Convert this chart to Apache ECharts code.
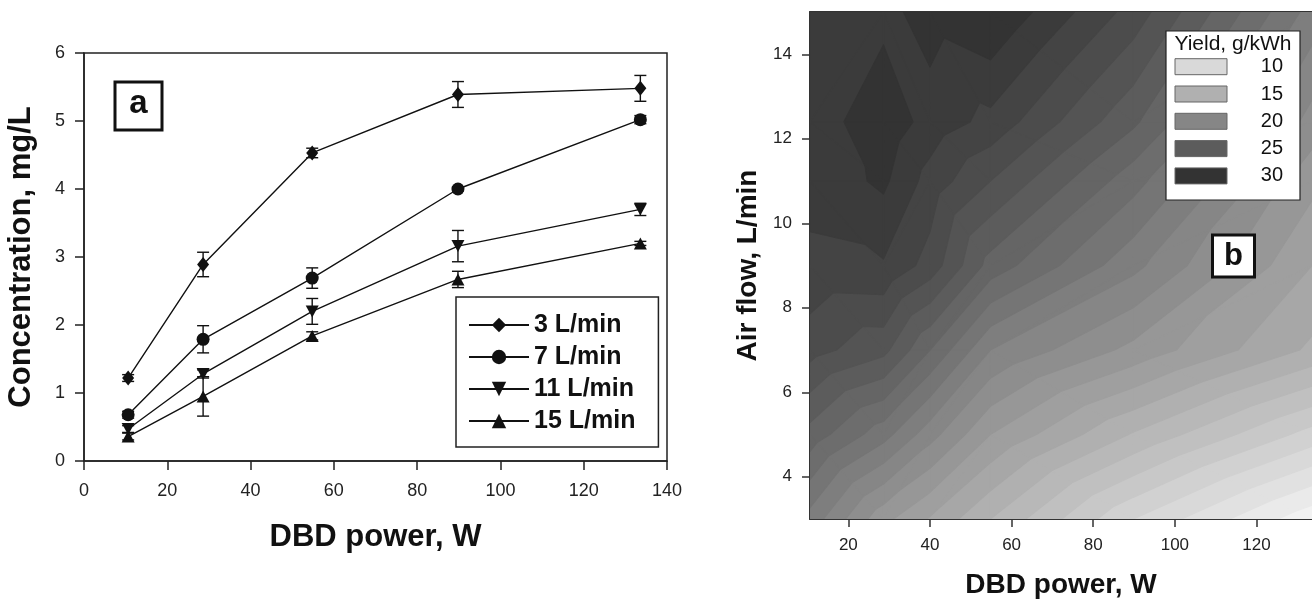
<!DOCTYPE html>
<html>
<head>
<meta charset="utf-8">
<title>Ozone concentration and yield vs DBD power</title>
<script src="https://cdn.jsdelivr.net/npm/echarts@6/dist/echarts.min.js"></script>
<style>
  html, body { margin: 0; padding: 0; background: #fff; }
  #chart { width: 1312px; height: 604px; }
</style>
</head>
<body>
<div id="chart"></div>
<script>
// ---- Panel a: concentration vs DBD power, one line per air flow ----
const powerA = [10.6, 28.6, 54.8, 89.8, 133.6];
const flowNames = ['3 L/min', '7 L/min', '11 L/min', '15 L/min'];
const conc3 = [1.22, 2.89, 4.53, 5.39, 5.48];
const conc7 = [0.68, 1.79, 2.69, 4.00, 5.02];
const conc11 = [0.47, 1.28, 2.20, 3.16, 3.70];
const conc15 = [0.36, 0.95, 1.84, 2.67, 3.20];
const err3 = [0.05, 0.18, 0.07, 0.19, 0.19];
const err7 = [0.05, 0.20, 0.15, 0.03, 0.06];
const err11 = [0.05, 0.06, 0.19, 0.23, 0.09];
const err15 = [0.05, 0.29, 0.06, 0.12, 0.03];

// ---- Panel b: yield (g/kWh) on a power x air-flow mesh ----
const powerB = [10.6, 28.6, 40, 54.8, 89.8, 133.6];
const flowB = [3, 5, 7, 9, 11, 12.4, 15];
const yieldQ3 = [21.6, 18.3, 16.9, 15.0, 11.0, 7.3];
const yieldQ5 = [24.6, 22.4, 20.4, 18.0, 14.9, 11.6];
const yieldQ7 = [27.4, 26.3, 24.0, 21.0, 18.7, 15.8];
const yieldQ9 = [28.8, 28.9, 27.6, 24.6, 21.3, 17.0];
const yieldQ11 = [29.3, 30.2, 28.6, 27.0, 23.4, 18.3];
const yieldQ12 = [29.4, 30.7, 29.6, 28.7, 25.2, 19.6];
const yieldQ15 = [29.5, 29.7, 30.4, 31.0, 27.6, 21.6];
const legendLevels = [10, 15, 20, 25, 30];
const xTicksB = [20, 40, 60, 80, 100, 120];
const yTicksB = [4, 6, 8, 10, 12, 14];

const FONT = '"Liberation Sans", Arial, Helvetica, sans-serif';
const INK = '#111';
const CONTOUR_STEP = 1;

// grey shade of the contour band that starts at a given level
function bandGray(level) {
  const g = Math.round(Math.max(36, Math.min(244, 217 - (level - 10) * 8.3)));
  return 'rgb(' + g + ',' + g + ',' + g + ')';
}

// keep the part of a polygon (points [x, y, value]) at or above a level
function clipAbove(poly, level) {
  const out = [];
  for (let i = 0; i < poly.length; i++) {
    const a = poly[i], b = poly[(i + 1) % poly.length];
    const ina = a[2] >= level, inb = b[2] >= level;
    if (ina) out.push(a);
    if (ina !== inb) {
      const t = (level - a[2]) / (b[2] - a[2]);
      out.push([a[0] + (b[0] - a[0]) * t, a[1] + (b[1] - a[1]) * t, level]);
    }
  }
  return out;
}

const yieldRows = [yieldQ3, yieldQ5, yieldQ7, yieldQ9, yieldQ11, yieldQ12, yieldQ15];
const allYields = [].concat.apply([], yieldRows);
const contourLevels = [];
for (let v = Math.floor(Math.min.apply(null, allYields)); v <= Math.max.apply(null, allYields); v += CONTOUR_STEP) {
  contourLevels.push([v]);
}

// linear triangles of the mesh, in pixels; each cell is split along the
// diagonal whose end values are lower
function meshTriangles(api) {
  const tris = [];
  for (let j = 0; j < flowB.length - 1; j++) {
    for (let i = 0; i < powerB.length - 1; i++) {
      const node = (ii, jj) => {
        const c = api.coord([powerB[ii], flowB[jj]]);
        return [c[0], c[1], yieldRows[jj][ii]];
      };
      const n00 = node(i, j), n10 = node(i + 1, j), n01 = node(i, j + 1), n11 = node(i + 1, j + 1);
      if (n00[2] + n11[2] <= n10[2] + n01[2]) {
        tris.push([n00, n10, n11], [n00, n11, n01]);
      } else {
        tris.push([n00, n10, n01], [n10, n11, n01]);
      }
    }
  }
  return tris;
}

// region where yield >= level, painted in that level's grey;
// higher levels are painted on top of lower ones
function renderYieldLevel(params, api) {
  const level = api.value(0);
  let d = '';
  meshTriangles(api).forEach(tri => {
    const poly = clipAbove(tri, level);
    if (poly.length >= 3) {
      d += 'M' + poly.map(p => p[0].toFixed(2) + ' ' + p[1].toFixed(2)).join('L') + 'Z';
    }
  });
  if (!d) return null;
  return {
    type: 'path',
    z2: level,
    shape: { pathData: d },
    style: { fill: bandGray(level), stroke: bandGray(level), lineWidth: 1.2, lineJoin: 'round' }
  };
}

// vertical error bar with caps
function renderErrorBar(params, api) {
  const x = api.value(0), y = api.value(1), e = api.value(2);
  const top = api.coord([x, y + e]);
  const bot = api.coord([x, y - e]);
  const hw = 6;
  const style = { stroke: INK, lineWidth: 1.4, fill: null };
  return {
    type: 'group',
    children: [
      { type: 'line', shape: { x1: top[0], y1: top[1], x2: bot[0], y2: bot[1] }, style: style },
      { type: 'line', shape: { x1: top[0] - hw, y1: top[1], x2: top[0] + hw, y2: top[1] }, style: style },
      { type: 'line', shape: { x1: bot[0] - hw, y1: bot[1], x2: bot[0] + hw, y2: bot[1] }, style: style }
    ]
  };
}

const concSets = [conc3, conc7, conc11, conc15];
const errSets = [err3, err7, err11, err15];
const symbols = [
  { symbol: 'diamond', size: [12, 15], rotate: 0 },
  { symbol: 'circle', size: 13, rotate: 0 },
  { symbol: 'triangle', size: [13, 12], rotate: 180 },
  { symbol: 'triangle', size: [13, 12], rotate: 0 }
];

const series = [];
concSets.forEach((conc, k) => {
  series.push({
    name: flowNames[k] + ' error',
    type: 'custom',
    xAxisIndex: 0, yAxisIndex: 0,
    renderItem: renderErrorBar,
    data: powerA.map((p, i) => [p, conc[i], errSets[k][i]]),
    encode: { x: 0, y: 1 },
    z: 2,
    silent: true
  });
});
concSets.forEach((conc, k) => {
  series.push({
    name: flowNames[k],
    type: 'line',
    xAxisIndex: 0, yAxisIndex: 0,
    data: powerA.map((p, i) => [p, conc[i]]),
    symbol: symbols[k].symbol,
    symbolSize: symbols[k].size,
    symbolRotate: symbols[k].rotate,
    showAllSymbol: true,
    lineStyle: { color: INK, width: 1.4 },
    itemStyle: { color: INK, borderWidth: 0 },
    emphasis: { disabled: true },
    z: 3
  });
});

series.push({
  name: 'Yield',
  type: 'custom',
  xAxisIndex: 1, yAxisIndex: 1,
  renderItem: renderYieldLevel,
  data: contourLevels,
  dimensions: ['level'],
  encode: { x: [], y: [] },
  clip: true,
  silent: true,
  z: 1
});

const axisLineA = { show: true, onZero: false, lineStyle: { color: '#222', width: 1.5 } };
const axisLineB = { show: true, onZero: false, lineStyle: { color: '#333', width: 2 } };

// legend of panel b drawn as rectangles and texts
const legendB = [];
legendB.push({
  type: 'rect', z: 100,
  shape: { x: 1166, y: 31, width: 134, height: 169 },
  style: { fill: '#fff', stroke: '#222', lineWidth: 1.2 }
});
legendB.push({
  type: 'text', z: 101, x: 1233, y: 44,
  style: { text: 'Yield, g/kWh', font: '21px ' + FONT, fill: INK, align: 'center', verticalAlign: 'middle' }
});
legendLevels.forEach((lv, i) => {
  const cy = 66.7 + i * 27.3;
  legendB.push({
    type: 'rect', z: 101,
    shape: { x: 1175, y: cy - 8, width: 52, height: 16 },
    style: { fill: bandGray(lv), stroke: '#666', lineWidth: 1 }
  });
  legendB.push({
    type: 'text', z: 101, x: 1283, y: cy,
    style: { text: String(lv), font: '20px ' + FONT, fill: INK, align: 'right', verticalAlign: 'middle' }
  });
});

const option = {
  animation: false,
  backgroundColor: '#fff',
  textStyle: { fontFamily: FONT },
  grid: [
    { left: 84, top: 53, right: 645, bottom: 143, show: true, borderColor: '#222', borderWidth: 1.5, backgroundColor: 'transparent' },
    { left: 810, top: 12, right: -10, bottom: 78.5, show: false }
  ],
  xAxis: [
    {
      gridIndex: 0, type: 'value', min: 0, max: 140, interval: 20,
      name: 'DBD power, W', nameLocation: 'middle', nameGap: 61,
      nameTextStyle: { fontFamily: FONT, fontWeight: 'bold', fontSize: 31, color: INK },
      axisLine: axisLineA,
      axisTick: { show: true, inside: false, length: 9, lineStyle: { color: '#222', width: 1.5 } },
      axisLabel: { margin: 21, fontSize: 18, color: '#222', fontFamily: FONT },
      splitLine: { show: false }
    },
    {
      gridIndex: 1, type: 'value', min: 10.6, max: 133.6,
      name: 'DBD power, W', nameLocation: 'middle', nameGap: 52,
      nameTextStyle: { fontFamily: FONT, fontWeight: 'bold', fontSize: 28, color: INK },
      axisLine: axisLineB,
      axisTick: { show: true, inside: false, length: 8, customValues: xTicksB, lineStyle: { color: '#333', width: 1.5 } },
      axisLabel: { margin: 18, fontSize: 17, color: '#222', fontFamily: FONT, customValues: xTicksB },
      splitLine: { show: false }
    },
    {
      gridIndex: 1, type: 'value', min: 10.6, max: 133.6, position: 'top',
      axisLine: axisLineB, axisTick: { show: false }, axisLabel: { show: false }, splitLine: { show: false }
    }
  ],
  yAxis: [
    {
      gridIndex: 0, type: 'value', min: 0, max: 6, interval: 1,
      name: 'Concentration, mg/L', nameLocation: 'middle', nameGap: 47,
      nameTextStyle: { fontFamily: FONT, fontWeight: 'bold', fontSize: 31, color: INK },
      axisLine: axisLineA,
      axisTick: { show: true, inside: false, length: 9, lineStyle: { color: '#222', width: 1.5 } },
      axisLabel: { margin: 19, fontSize: 18, color: '#222', fontFamily: FONT },
      splitLine: { show: false }
    },
    {
      gridIndex: 1, type: 'value', min: 3, max: 15,
      name: 'Air flow, L/min', nameLocation: 'middle', nameGap: 48,
      nameTextStyle: { fontFamily: FONT, fontWeight: 'bold', fontSize: 28, color: INK },
      axisLine: axisLineB,
      axisTick: { show: true, inside: false, length: 8, customValues: yTicksB, lineStyle: { color: '#333', width: 1.5 } },
      axisLabel: { margin: 18, fontSize: 17, color: '#222', fontFamily: FONT, customValues: yTicksB },
      splitLine: { show: false }
    }
  ],
  legend: {
    data: flowNames,
    orient: 'vertical',
    left: 456, top: 297,
    itemWidth: 60, itemHeight: 18, itemGap: 6,
    padding: [15, 23, 13, 12],
    borderColor: '#222', borderWidth: 1.5, backgroundColor: '#fff',
    selectedMode: false,
    textStyle: { fontFamily: FONT, fontWeight: 'bold', fontSize: 25, color: INK, lineHeight: 26 }
  },
  graphic: [
    {
      type: 'rect', z: 100,
      shape: { x: 115, y: 82, width: 47, height: 48 },
      style: { fill: '#fff', stroke: INK, lineWidth: 3 }
    },
    {
      type: 'text', z: 101, x: 138.5, y: 104,
      style: { text: 'a', font: 'bold 33px ' + FONT, fill: INK, align: 'center', verticalAlign: 'middle' }
    },
    {
      type: 'rect', z: 100,
      shape: { x: 1212.5, y: 235, width: 42, height: 42 },
      style: { fill: '#fff', stroke: INK, lineWidth: 3 }
    },
    {
      type: 'text', z: 101, x: 1233.5, y: 256,
      style: { text: 'b', font: 'bold 31px ' + FONT, fill: INK, align: 'center', verticalAlign: 'middle' }
    }
  ].concat(legendB),
  series: series
};

const chart = echarts.init(document.getElementById('chart'), null, { renderer: 'canvas' });
chart.setOption(option);
</script>
</body>
</html>
